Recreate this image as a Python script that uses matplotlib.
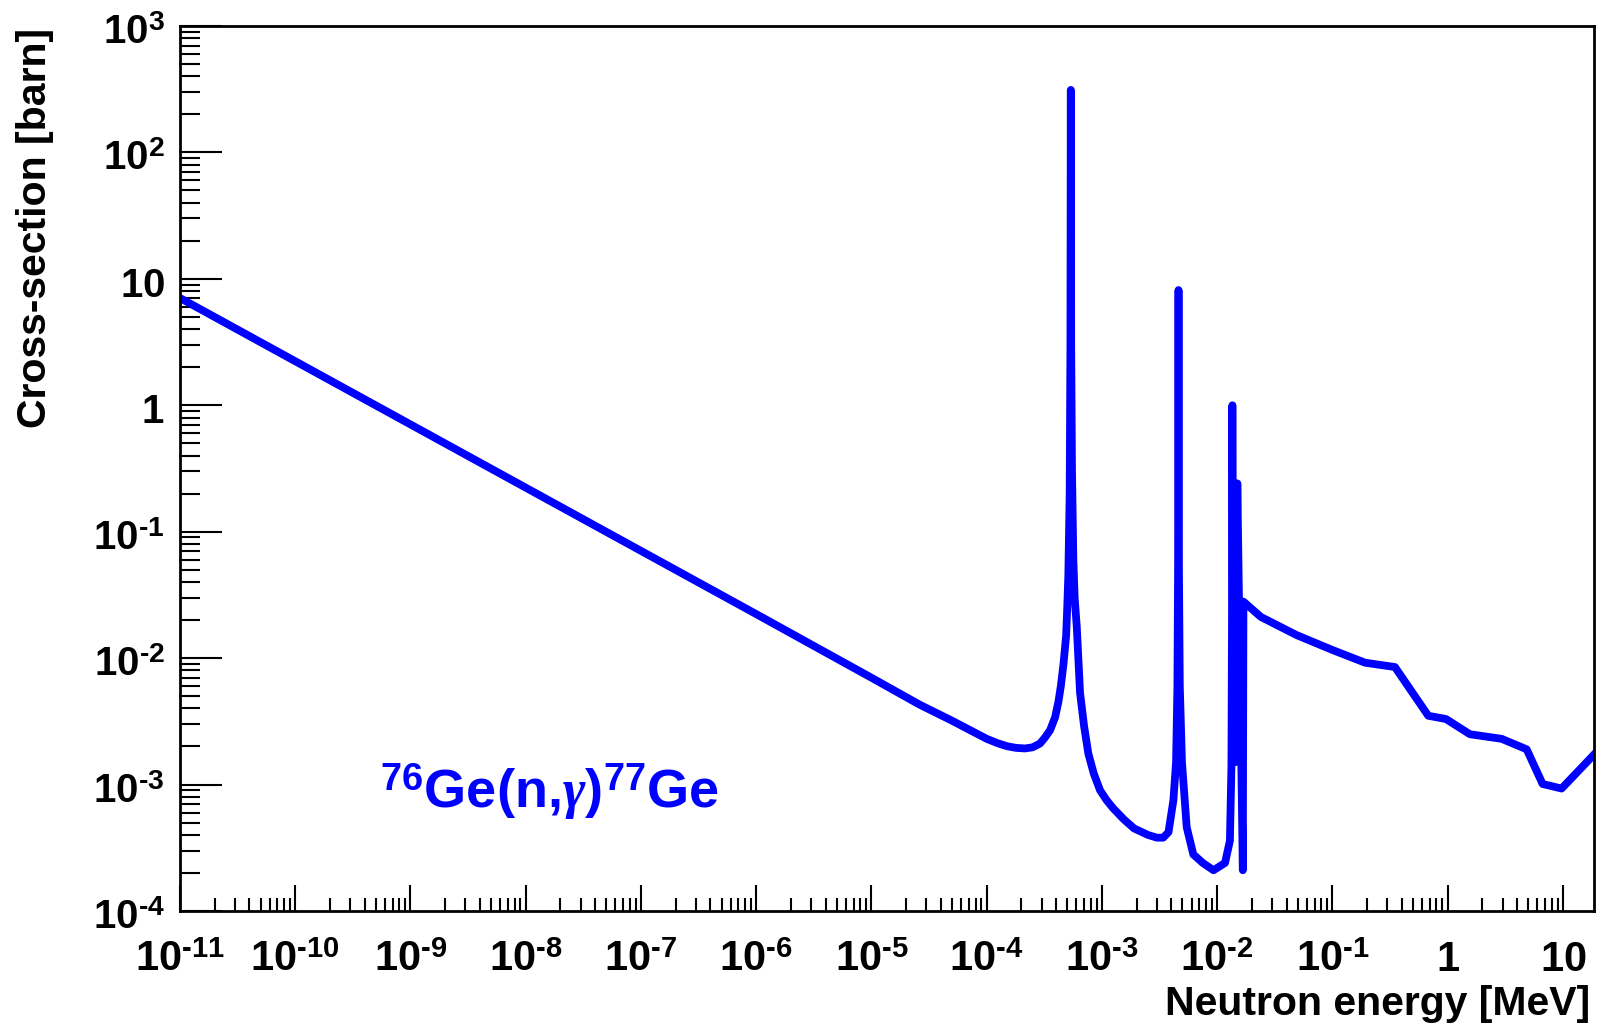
#76Ge(n,gamma)77Ge capture cross-section, redrawn with matplotlib in ROOT style

import matplotlib
matplotlib.use("Agg")
import matplotlib.pyplot as plt
import matplotlib.ticker as ticker
import matplotlib.transforms as mtransforms
import numpy as np

# values (energy in MeV, cross-section in barn)
energy = [1e-11, 1e-8, 1e-6, 3.6e-6, 1e-5, 2.6e-5, 5e-5, 1.0e-4, 1.25e-4, 1.5e-4,
          1.8e-4, 2.15e-4, 2.5e-4, 2.9e-4, 3.2e-4, 3.55e-4, 3.92e-4, 4.19e-4, 4.4e-4, 4.64e-4,
          4.89e-4, 5.0e-4, 5.11e-4, 5.25e-4, 5.33e-4, 5.37e-4, 5.41e-4, 5.5e-4, 5.65e-4, 5.8e-4,
          6.05e-4, 6.46e-4, 7.0e-4, 7.62e-4, 8.5e-4, 9.64e-4, 1.1e-3, 1.25e-3, 1.55e-3, 1.9e-3,
          2.5e-3, 3.0e-3, 3.4e-3, 3.78e-3, 4.17e-3, 4.40e-3, 4.52e-3, 4.58e-3, 4.62e-3, 4.66e-3,
          4.74e-3, 4.95e-3, 5.44e-3, 6.21e-3, 7.5e-3, 9.3e-3, 1.17e-2, 1.29e-2, 1.33e-2, 1.345e-2,
          1.355e-2, 1.37e-2, 1.40e-2, 1.43e-2, 1.47e-2, 1.496e-2, 1.67e-2, 1.69e-2, 2.39e-2, 4.9e-2,
          0.1, 0.192, 0.349, 0.679, 0.966, 1.56, 2.94, 4.85, 6.67, 9.75,
          19.0]
xsec = [7.05, 0.223, 0.0223, 0.0117, 0.0070, 0.0043, 0.0032, 0.0023, 0.00212, 0.00201,
        0.00195, 0.00193, 0.00197, 0.00211, 0.00235, 0.00269, 0.0034, 0.0045, 0.006, 0.009,
        0.015, 0.025, 0.045, 0.2, 3.0, 312, 3.0, 0.3, 0.06, 0.03,
        0.0177, 0.0053, 0.0029, 0.00176, 0.00122, 0.00090, 0.00075, 0.00065, 0.00053, 0.00045,
        0.00040, 0.00038, 0.00038, 0.00042, 0.00075, 0.0015, 0.006, 0.05, 8.15, 0.05,
        0.006, 0.0015, 0.00046, 0.00028, 0.00024, 0.00021, 0.00024, 0.00036, 0.0014, 0.02,
        1.0, 0.02, 0.003, 0.0015, 0.02, 0.241, 0.00021, 0.028, 0.0212, 0.0152,
        0.0116, 0.0092, 0.0085, 0.0035, 0.0033, 0.0025, 0.0023, 0.0019, 0.00101, 0.00093,
        0.00176]

xtick_vals = [1e-11, 1e-10, 1e-9, 1e-8, 1e-7, 1e-6, 1e-5, 1e-4, 1e-3, 1e-2, 1e-1, 1, 10]
xtick_labels = ["$10^{‐11}$", "$10^{‐10}$", "$10^{‐9}$", "$10^{‐8}$", "$10^{‐7}$", "$10^{‐6}$",
                "$10^{‐5}$", "$10^{‐4}$", "$10^{‐3}$", "$10^{‐2}$", "$10^{‐1}$", "$1$", "$10$"]
ytick_vals = [1e-4, 1e-3, 1e-2, 1e-1, 1, 10, 100, 1000]
ytick_labels = ["$10^{‐4}$", "$10^{‐3}$", "$10^{‐2}$", "$10^{‐1}$", "$1$", "$10$",
                "$10^{2}$", "$10^{3}$"]

plt.rcParams["font.family"] = ["Liberation Sans", "DejaVu Sans"]
plt.rcParams["font.weight"] = "bold"
plt.rcParams["mathtext.fontset"] = "custom"
plt.rcParams["mathtext.rm"] = "Liberation Sans:bold"
plt.rcParams["mathtext.it"] = "Liberation Serif:italic"
plt.rcParams["mathtext.bf"] = "Liberation Sans:bold"
plt.rcParams["mathtext.sf"] = "Liberation Sans:bold"

fig = plt.figure(figsize=(16, 10.26), dpi=100)
ax = fig.add_axes([0.1125, 0.1121, 0.88375, 0.8626])

ax.plot(energy, xsec, color="#0000ff", lw=5.6)

ax.set_xscale("log")
ax.set_yscale("log")
ax.set_xlim(1e-11, 10 ** 1.27)
ax.set_ylim(1e-4, 1e3)

ax.xaxis.set_major_locator(ticker.FixedLocator(xtick_vals))
ax.xaxis.set_major_formatter(ticker.FixedFormatter(xtick_labels))
ax.yaxis.set_major_locator(ticker.FixedLocator(ytick_vals))
ax.yaxis.set_major_formatter(ticker.FixedFormatter(ytick_labels))
ax.xaxis.set_minor_locator(ticker.LogLocator(base=10, subs=np.arange(2, 10), numticks=100))
ax.yaxis.set_minor_locator(ticker.LogLocator(base=10, subs=np.arange(2, 10), numticks=100))
ax.xaxis.set_minor_formatter(ticker.NullFormatter())
ax.yaxis.set_minor_formatter(ticker.NullFormatter())

ax.tick_params(axis="x", which="major", direction="in", length=19, width=1.5, pad=43, labelsize=30)
ax.tick_params(axis="x", which="minor", direction="in", length=9.5, width=1.5)
ax.tick_params(axis="y", which="major", direction="in", length=30, width=1.5, pad=11, labelsize=29)
ax.tick_params(axis="y", which="minor", direction="in", length=14.5, width=1.5)

for lab in ax.get_xticklabels():
    lab.set_va("baseline")
# ROOT puts the y labels with their baseline a bit below the tick
shift = mtransforms.ScaledTranslation(0, -0.18, fig.dpi_scale_trans)
for lab in ax.get_yticklabels():
    lab.set_va("baseline")
    lab.set_transform(lab.get_transform() + shift)

for sp in ax.spines.values():
    sp.set_linewidth(2)

ax.text(0.1414, 0.1164, "$^{76}$Ge(n,$\\gamma$)$^{77}$Ge", transform=ax.transAxes, color="#0000ff",
        fontsize=39, fontweight="bold", ha="left", va="baseline")

fig.text(1590 / 1600, 11 / 1026, "Neutron energy [MeV]", fontsize=29.5, fontweight="bold",
         ha="right", va="baseline")
fig.text(35 / 1600, 998 / 1026, "Cross-section [barn]", fontsize=29.5, fontweight="bold",
         rotation=90, ha="center", va="top")

fig.savefig("out.png", dpi=100)
